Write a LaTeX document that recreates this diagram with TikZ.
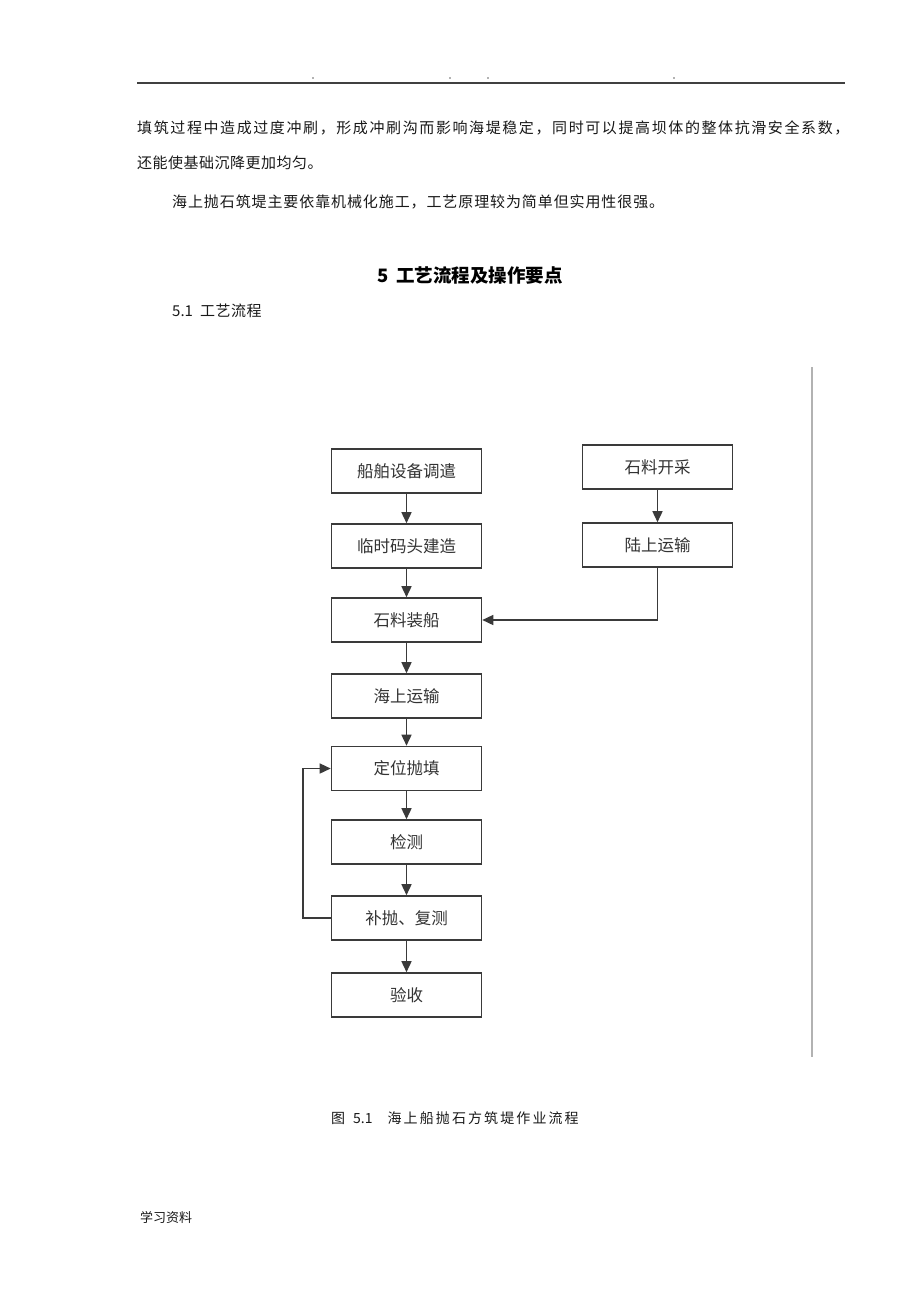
\documentclass[tikz,border=0pt]{standalone}
\usepackage{fontspec}
\newfontfamily\cjk{Noto Sans CJK SC}
\usepackage{tikz}
\usetikzlibrary{positioning,arrows.meta}
\usepackage{xcolor}
\definecolor{inkgray}{HTML}{3A3A3A}
\ExplSyntaxOn
\NewDocumentCommand\spreadtext{mm}{\tl_map_inline:nn{#2}{##1\kern#1\relax}}
\ExplSyntaxOff

\begin{document}
\begin{tikzpicture}[x=1pt,y=-1pt,
  flowbox/.style={draw=inkgray,line width=1.6pt,minimum width=150pt,minimum height=44pt,inner sep=0pt,text=black!80,font=\cjk\fontsize{16.5}{16.5}\selectfont},
  flowline/.style={draw=inkgray,line width=1.5pt,-{Triangle[length=11pt,width=10pt]}},
  bodytext/.style={anchor=west,inner sep=0pt,text=black!90,font=\cjk\fontsize{15}{15}\selectfont}]
\useasboundingbox (0,0) rectangle (920,1302);
\fill[white](0,0)rectangle(920,1302);
\draw[line width=1.2pt,black!75](137,83)--(845,83);% header rule
\foreach \dx in {313,450,488,674}
  \fill[black!60](\dx,78)circle[radius=0.8pt];

% text above the chart
\node[bodytext] (para1) at (137,128) {\spreadtext{1.6pt}{填筑过程中造成过度冲刷，形成冲刷沟而影响海堤稳定，同时可以提高坝体的整体抗滑安全系数，}};
\node[bodytext] (para2) at (137,163) {\spreadtext{0.5pt}{还能使基础沉降更加均匀。}};
\node[bodytext] (para3) at (172,202) {\spreadtext{0.9pt}{海上抛石筑堤主要依靠机械化施工，工艺原理较为简单但实用性很强。}};
\node[inner sep=0pt,font=\cjk\bfseries\fontsize{18.5}{18.5}\selectfont] (title) at (470,275) {5\hspace{8pt}工艺流程及操作要点};
\node[bodytext] (subtitle) at (172,311) {5.1\hspace{7pt}\spreadtext{0.5pt}{工艺流程}};

% flow chart
\node[flowbox] (ship) at (406.5,471) {船舶设备调遣};
\node[flowbox] (dock) at (406.5,546) {临时码头建造};
\node[flowbox] (load) at (406.5,620) {石料装船};
\node[flowbox] (sea) at (406.5,696) {海上运输};
\node[flowbox] (place) at (406.5,768.5) {定位抛填};
\node[flowbox] (check) at (406.5,842) {检测};
\node[flowbox] (refill) at (406.5,918) {补抛、复测};
\node[flowbox] (accept) at (406.5,995) {验收};
\node[flowbox] (quarry) at (657.5,467) {石料开采};
\node[flowbox] (land) at (657.5,545) {陆上运输};
\coordinate (loopcorner) at (303,918);

\draw[flowline](ship)--(dock);
\draw[flowline](dock)--(load);
\draw[flowline](load)--(sea);
\draw[flowline](sea)--(place);
\draw[flowline](place)--(check);
\draw[flowline](check)--(refill);
\draw[flowline](refill)--(accept);
\draw[flowline](quarry)--(land);
\draw[flowline](land.south)|-(load.east);% land route joins loading
\draw[flowline](refill.west)--(loopcorner)|-(place.west);% back to placing

\draw[black!30,line width=1.2pt](812,367)--(812,1057);% scan edge

% caption and footer
\node[bodytext,font=\cjk\fontsize{14}{14}\selectfont] (caption) at (331,1118) {图\hspace{8pt}5.1\hspace{15pt}\spreadtext{2.1pt}{海上船抛石方筑堤作业流程}};
\node[bodytext,font=\cjk\fontsize{13}{13}\selectfont] (footer) at (140,1217) {学习资料};
\end{tikzpicture}
\end{document}
